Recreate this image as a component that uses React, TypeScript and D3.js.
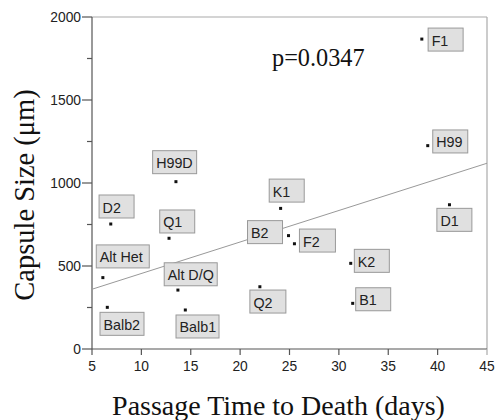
import React from "react";
import * as d3 from "d3";

const labels = ["F1", "H99", "H99D", "D2", "Q1", "Alt Het", "Alt D/Q", "Balb2", "Balb1", "K1", "D1", "B2", "F2", "K2", "B1", "Q2"];
const passageDays = [38.4, 39.0, 13.5, 6.9, 12.8, 6.1, 13.7, 6.55, 14.45, 24.1, 41.2, 24.9, 25.5, 31.2, 31.4, 22.0];
const capsuleSize = [1867, 1225, 1008, 753, 667, 430, 355, 251, 235, 847, 869, 683, 634, 516, 275, 375];
const xTicks = [5, 10, 15, 20, 25, 30, 35, 40, 45];
const yTicks = [0, 500, 1000, 1500, 2000];
const yMinorTicks = [250, 750, 1250, 1750];
const fitStart = { x: 5, y: 360 };
const fitEnd = { x: 45, y: 1119 };
const pValueText = "p=0.0347";

// label box layout (pixel offsets from the dot, box width)
const labelLayout: [number, number, number][] = [
  [6.3, -11, 35], [5, -15.7, 35], [-23.3, -31, 44], [-11.7, -29, 35], [-9.3, -28.3, 35],
  [-6.6, -32.7, 53], [-13.7, -27.3, 53], [-7.3, 5, 44], [-9.3, 5, 43], [-11.4, -29.3, 35],
  [-12.6, 3.6, 35], [-41, -15, 35], [5, -14.7, 36], [3.6, -14, 35], [3, -15.6, 35], [-10, 3.3, 36],
];

export default function App() {
  const W = 495, H = 420;
  const x = d3.scaleLinear().domain([5, 45]).range([92, 487]);
  const y = d3.scaleLinear().domain([0, 2000]).range([349, 17]);
  const axisColor = "#555";
  const frameColor = "#aaa";
  const sans = "'Liberation Sans', Arial, sans-serif";
  const serif = "'Liberation Serif', 'Times New Roman', serif";
  return (
    <svg width={W} height={H} style={{ position: "absolute", left: 0, top: 0, background: "#fff" }}>
      <line x1={x(5)} x2={x(45)} y1={y(2000)} y2={y(2000)} stroke={frameColor} strokeWidth={1.2} />
      <line x1={x(45)} x2={x(45)} y1={y(2000)} y2={y(0)} stroke={frameColor} strokeWidth={1.2} />
      <line x1={x(5)} x2={x(45)} y1={y(0)} y2={y(0)} stroke={axisColor} strokeWidth={1.2} />
      <line x1={x(5)} x2={x(5)} y1={y(2000)} y2={y(0)} stroke={axisColor} strokeWidth={1.2} />
      {xTicks.map((t) => (
        <g key={"xt" + t}>
          <line x1={x(t)} x2={x(t)} y1={y(0)} y2={y(0) + 6} stroke={t === 45 ? frameColor : axisColor} strokeWidth={1.2} />
          <text x={x(t)} y={y(0) + 22} textAnchor="middle" fontFamily={sans} fontSize={13.8} fill="#222">{t}</text>
        </g>
      ))}
      {yTicks.map((t) => (
        <g key={"yt" + t}>
          <line x1={x(5) - 10} x2={x(5)} y1={y(t)} y2={y(t)} stroke={axisColor} strokeWidth={1.2} />
          <text x={x(5) - 11} y={y(t) + 5} textAnchor="end" fontFamily={sans} fontSize={13.8} fill="#222">{t}</text>
        </g>
      ))}
      {yMinorTicks.map((t) => (
        <line key={"ym" + t} x1={x(5) - 5} x2={x(5)} y1={y(t)} y2={y(t)} stroke={axisColor} strokeWidth={1.2} />
      ))}
      <line x1={x(fitStart.x)} y1={y(fitStart.y)} x2={x(fitEnd.x)} y2={y(fitEnd.y)} stroke="#999" strokeWidth={1} />
      {labels.map((lab, i) => {
        const px = x(passageDays[i]);
        const py = y(capsuleSize[i]);
        const [dx, dy, bw] = labelLayout[i];
        const bx = px + dx, by = py + dy;
        return (
          <g key={lab}>
            <rect x={px - 1.5} y={py - 1.5} width={3} height={3} fill="#111" />
            <rect x={bx} y={by} width={bw} height={23} fill="#e0e0e0" stroke="#999" strokeWidth={1} />
            <text x={bx + 3.5} y={by + 17.5} fontFamily={sans} fontSize={14.3} fill="#222">{lab}</text>
          </g>
        );
      })}
      <text x={272} y={66} fontFamily={serif} fontSize={24.3} fill="#111">{pValueText}</text>
      <text x={278.5} y={415} textAnchor="middle" fontFamily={serif} fontSize={28} fill="#111">Passage Time to Death (days)</text>
      <text transform={`translate(34,195) rotate(-90)`} textAnchor="middle" fontFamily={serif} fontSize={28.5} fill="#111">Capsule Size (μm)</text>
    </svg>
  );
}
